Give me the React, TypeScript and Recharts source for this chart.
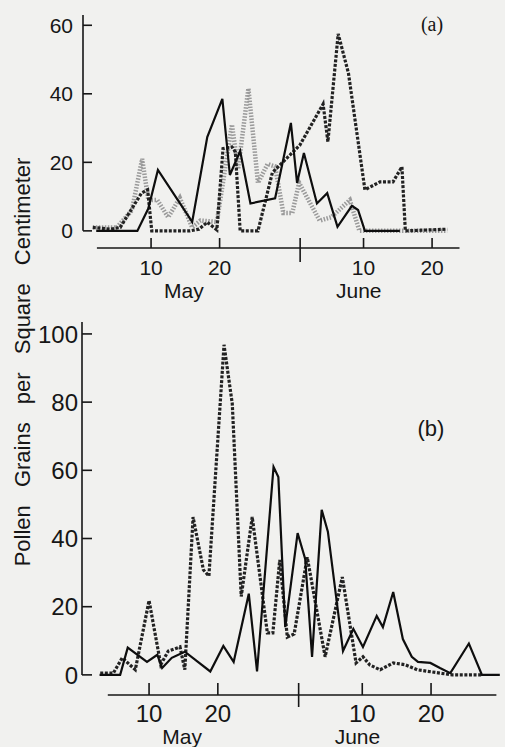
import { LineChart, Line, XAxis, YAxis, ReferenceLine } from "recharts";

// panel (a) series: day of season (May 1 = 1, June 1 = 32) and grains per cm2
const aSolidDays = [2, 5, 8, 9.6, 11, 16, 18.2, 20.4, 21.5, 23, 24.5, 28.1, 30.4, 31.3, 32.3, 34.2, 35.7, 37.2, 39.3, 40.2, 41.2, 46.3];
const aSolidVals = [0, 0, 0, 6.5, 17.8, 2.6, 27.4, 38.5, 16.3, 23.3, 8, 9.5, 31.5, 14, 22.7, 8, 11, 1.2, 7.3, 6.1, 0, 0];

const aDashDays = [1.5, 4, 5.5, 8.6, 9.5, 10.1, 15.7, 17, 18.2, 19.6, 20.5, 21.8, 22.3, 23, 25.6, 27.7, 31.7, 35.1, 35.8, 37.3, 38.8, 41.2, 43.4, 45.3, 46.6, 47.1, 53.2];
const aDashVals = [1, 0.5, 1, 11, 12, 0, 0, 0.5, 2.5, 0.3, 24, 24.5, 23, 0, 0, 17, 25, 37, 26, 57.5, 46, 12, 14.3, 14.3, 18.7, 0, 0.5];

const aDotDays = [1.5, 5, 7.2, 8.7, 9.6, 10.9, 12.5, 14.2, 16, 17.2, 19.6, 21.8, 22.7, 24.2, 25.6, 27, 28.1, 29.3, 30.6, 31.6, 34.6, 36.3, 39, 40.4, 53.2];
const aDotVals = [1, 1, 6, 21, 9, 9, 4, 9.6, 1, 3, 2.6, 31, 18, 41.6, 14, 19.5, 18.8, 5.2, 5.2, 14, 3, 4, 9, 0, 0];

// panel (b) series
const bSolidDays = [2.8, 5.8, 6.9, 9.7, 11.2, 11.9, 13.3, 15.2, 18.9, 20.8, 22.3, 24.5, 25.7, 28.1, 28.8, 29.8, 31.6, 32.7, 33.7, 35.1, 36.0, 38.2, 39.7, 41.1, 43.1, 44.0, 45.5, 46.9, 48.2, 49.1, 50.9, 52.3, 53.8, 56.5, 58.4, 61];
const bSolidVals = [0, 0, 8, 3.8, 5.9, 2, 5, 6.8, 1, 8.5, 3.8, 23.8, 1, 61, 58, 14, 41.6, 34, 5.3, 48.4, 42, 7, 13.5, 8.2, 17.3, 14, 24.3, 10.5, 5.3, 3.8, 3.5, 2, 0.5, 9.2, 0, 0];

const bDashDays = [2.9, 4.8, 6.1, 8.0, 10.0, 11.7, 12.8, 14.5, 15.2, 16.4, 17.9, 18.7, 20.9, 22.1, 23.4, 25.0, 27.2, 28.0, 29.0, 30.1, 31.1, 33.0, 35.6, 38.1, 40.1, 41.1, 42.1, 43.6, 45.5, 47.2, 49.0, 54.1, 58.4];
const bDashVals = [0.5, 0.5, 5, 1.5, 21.8, 3, 7, 8.2, 1.5, 46.3, 30.8, 29, 96.8, 79.5, 23, 46.3, 12.3, 12.3, 33.7, 11.1, 12, 34.5, 5.3, 28.7, 3.5, 5.3, 2.9, 1.5, 3.5, 3, 1.5, 0, 0];

// axis ticks
const xTickDays = [10, 20, 41, 51];
const xTickLabels = ["10", "20", "10", "20"];
const monthBoundary = 31.75;
const monthDays = [14.8, 40.3];
const monthNames = ["May", "June"];
const aYTicks = [0, 20, 40, 60];
const bYTicks = [0, 20, 40, 60, 80, 100];

const FONT = "'Liberation Sans', Arial, sans-serif";
const INK = "#161616";

const toRows = (days: number[], vals: number[]) => days.map((d, i) => ({ d, v: vals[i] }));

function makeXTick(fontSize: number, monthSize: number, monthDy: number, up: number, down: number) {
    return (props: any) => {
        const { x, y, payload } = props;
        const val = payload.value;
        const mi = monthDays.indexOf(val);
        if (mi >= 0) {
            return (
                <text x={x} y={y + monthDy} textAnchor="middle" fontSize={monthSize} fontFamily={FONT} fill={INK}>
                    {monthNames[mi]}
                </text>
            );
        }
        if (val === monthBoundary) {
            return <line x1={x} x2={x} y1={y - up} y2={y + down} stroke={INK} strokeWidth={1.6} />;
        }
        const ti = xTickDays.indexOf(val);
        return (
            <g>
                <line x1={x} x2={x} y1={y - up} y2={y} stroke={INK} strokeWidth={1.6} />
                <text x={x} y={y + 27} textAnchor="middle" fontSize={fontSize} fontFamily={FONT} fill={INK}>
                    {xTickLabels[ti]}
                </text>
            </g>
        );
    };
}

function makeYTick(fontSize: number, gap: number, len: number) {
    return (props: any) => {
        const { x, y, payload } = props;
        return (
            <g>
                <line x1={x} x2={x + len} y1={y} y2={y} stroke={INK} strokeWidth={1.6} />
                <text x={x - gap} y={y} dy="0.36em" textAnchor="end" fontSize={fontSize} fontFamily={FONT} fill={INK}>
                    {payload.value}
                </text>
            </g>
        );
    };
}

const xTicksAll = [...xTickDays, monthBoundary, ...monthDays];

export default function App() {
    const aX: [number, number] = [0.07, 55];
    const aY: [number, number] = [-5, 63];
    const bX: [number, number] = [0.25, 61.2];
    const bY: [number, number] = [-5.9, 103.5];

    return (
        <div style={{ position: "absolute", left: 0, top: 0, width: 505, height: 747, background: "#f1f1ef", overflow: "hidden" }}>
            {/* panel (a) */}
            <div style={{ position: "absolute", left: 0, top: 0 }}>
                <LineChart width={505} height={310} margin={{ top: 15, right: 45.5, bottom: 0, left: 23 }}>
                    <XAxis
                        type="number"
                        dataKey="d"
                        domain={aX}
                        allowDataOverflow
                        ticks={xTicksAll}
                        interval={0}
                        axisLine={false}
                        tickLine={false}
                        tickSize={0}
                        tickMargin={0}
                        height={62}
                        tick={makeXTick(21, 21, 50, 10, 14)}
                    />
                    <YAxis
                        type="number"
                        domain={aY}
                        allowDataOverflow
                        ticks={aYTicks}
                        interval={0}
                        width={60}
                        axisLine={false}
                        tickLine={false}
                        tickSize={0}
                        tickMargin={0}
                        tick={makeYTick(21, 10, 9)}
                    />
                    <ReferenceLine ifOverflow="visible" stroke={INK} strokeWidth={1.6}
                        segment={[{ x: aX[0], y: 0 }, { x: aX[0], y: aY[1] }]} />
                    <ReferenceLine ifOverflow="visible" stroke={INK} strokeWidth={1.6}
                        segment={[{ x: 2.1, y: aY[0] }, { x: aX[1], y: aY[0] }]} />
                    <Line data={toRows(aDotDays, aDotVals)} dataKey="v" type="linear" stroke="#9a9a9a"
                        strokeWidth={4.5} strokeDasharray="1.5 1.5" dot={false} activeDot={false} isAnimationActive={false} />
                    <Line data={toRows(aDashDays, aDashVals)} dataKey="v" type="linear" stroke="#222"
                        strokeWidth={3.2} strokeDasharray="3 1.6" dot={false} activeDot={false} isAnimationActive={false} />
                    <Line data={toRows(aSolidDays, aSolidVals)} dataKey="v" type="linear" stroke="#0e0e0e"
                        strokeWidth={2.2} dot={false} activeDot={false} isAnimationActive={false} />
                </LineChart>
            </div>

            {/* panel (b) */}
            <div style={{ position: "absolute", left: 0, top: 0 }}>
                <LineChart width={505} height={747} margin={{ top: 322, right: 3.8, bottom: 0, left: 22 }}>
                    <XAxis
                        type="number"
                        dataKey="d"
                        domain={bX}
                        allowDataOverflow
                        ticks={xTicksAll}
                        interval={0}
                        axisLine={false}
                        tickLine={false}
                        tickSize={0}
                        tickMargin={0}
                        height={52}
                        tick={makeXTick(24, 21, 49, 12, 12)}
                    />
                    <YAxis
                        type="number"
                        domain={bY}
                        allowDataOverflow
                        ticks={bYTicks}
                        interval={0}
                        width={60}
                        axisLine={false}
                        tickLine={false}
                        tickSize={0}
                        tickMargin={0}
                        tick={makeYTick(24, 4, 10)}
                    />
                    <ReferenceLine ifOverflow="visible" stroke={INK} strokeWidth={1.6}
                        segment={[{ x: bX[0], y: 0 }, { x: bX[0], y: bY[1] }]} />
                    <ReferenceLine ifOverflow="visible" stroke={INK} strokeWidth={1.6}
                        segment={[{ x: 4.0, y: bY[0] }, { x: 60.5, y: bY[0] }]} />
                    <Line data={toRows(bDashDays, bDashVals)} dataKey="v" type="linear" stroke="#222"
                        strokeWidth={3.2} strokeDasharray="3 1.6" dot={false} activeDot={false} isAnimationActive={false} />
                    <Line data={toRows(bSolidDays, bSolidVals)} dataKey="v" type="linear" stroke="#0e0e0e"
                        strokeWidth={2.2} dot={false} activeDot={false} isAnimationActive={false} />
                </LineChart>
            </div>

            {/* shared axis title and panel letters */}
            <svg width={505} height={747} style={{ position: "absolute", left: 0, top: 0, pointerEvents: "none" }}>
                <text x={30} y={362} transform="rotate(-90 30 362)" textAnchor="middle" fontSize={22}
                    fontFamily={FONT} fill={INK} style={{ wordSpacing: 12 }}>
                    Pollen Grains per Square Centimeter
                </text>
                <text x={432} y={31} textAnchor="middle" fontSize={20} fontFamily="'Liberation Serif', serif" fill={INK}>
                    (a)
                </text>
                <text x={431} y={436} textAnchor="middle" fontSize={22} fontFamily={FONT} fill={INK}>
                    (b)
                </text>
            </svg>
        </div>
    );
}
